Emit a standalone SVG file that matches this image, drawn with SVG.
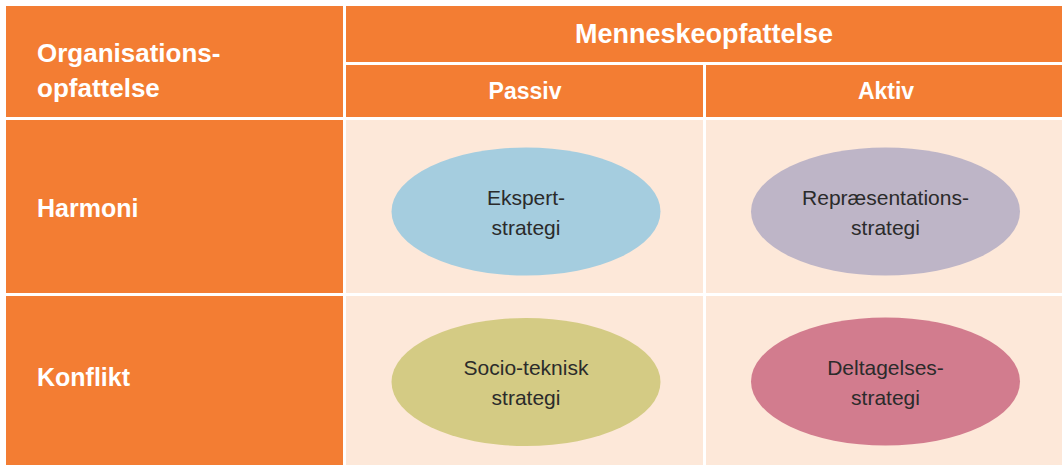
<svg xmlns="http://www.w3.org/2000/svg" width="1062" height="465" viewBox="0 0 1062 465">
<style>
.hd{fill:#F37D33}
.bd{fill:#FDE8D9}
.ht{font-family:"Liberation Sans",Arial,sans-serif;font-weight:bold;fill:#FFFFFF}
.et{font-family:"Liberation Sans",Arial,sans-serif;font-size:21px;fill:#2B2B2B;text-anchor:middle}
</style>
<rect width="1062" height="465" fill="#FFFFFF"/>
<g id="header-org">
<rect class="hd" x="6" y="6" width="337" height="111"/>
<text class="ht" font-size="26" x="37" y="62">Organisations-</text>
<text class="ht" font-size="26" x="37" y="97">opfattelse</text>
</g>
<g id="header-menneske">
<rect class="hd" x="346" y="6" width="716" height="56"/>
<text class="ht" font-size="27" x="704" y="43" text-anchor="middle">Menneskeopfattelse</text>
</g>
<g id="header-passiv">
<rect class="hd" x="346" y="65" width="357" height="52"/>
<text class="ht" font-size="23" x="525" y="99" text-anchor="middle">Passiv</text>
</g>
<g id="header-aktiv">
<rect class="hd" x="706" y="65" width="356" height="52"/>
<text class="ht" font-size="23" x="886" y="99" text-anchor="middle">Aktiv</text>
</g>
<g id="row-harmoni">
<rect class="hd" x="6" y="120" width="337" height="173"/>
<text class="ht" font-size="25" x="37" y="217">Harmoni</text>
</g>
<g id="row-konflikt">
<rect class="hd" x="6" y="296" width="337" height="169"/>
<text class="ht" font-size="25" x="37" y="386">Konflikt</text>
</g>
<g id="cells">
<rect class="bd" x="346" y="120" width="357" height="173"/>
<rect class="bd" x="706" y="120" width="356" height="173"/>
<rect class="bd" x="346" y="296" width="357" height="169"/>
<rect class="bd" x="706" y="296" width="356" height="169"/>
</g>
<g id="ekspert">
<ellipse cx="526" cy="211.5" rx="134.5" ry="64" fill="#A5CDDF"/>
<text class="et" x="526" y="205">Ekspert-</text>
<text class="et" x="526" y="235">strategi</text>
</g>
<g id="repraesentation">
<ellipse cx="885.5" cy="211.5" rx="134.5" ry="64" fill="#BEB5C7"/>
<text class="et" x="885.5" y="205">Repræsentations-</text>
<text class="et" x="885.5" y="235">strategi</text>
</g>
<g id="socioteknisk">
<ellipse cx="526" cy="382" rx="134.5" ry="64" fill="#D4CB84"/>
<text class="et" x="526" y="375">Socio-teknisk</text>
<text class="et" x="526" y="405">strategi</text>
</g>
<g id="deltagelse">
<ellipse cx="885.5" cy="381.5" rx="134.5" ry="64" fill="#D27C8E"/>
<text class="et" x="885.5" y="375">Deltagelses-</text>
<text class="et" x="885.5" y="405">strategi</text>
</g>
<g id="connectors"></g>
</svg>
